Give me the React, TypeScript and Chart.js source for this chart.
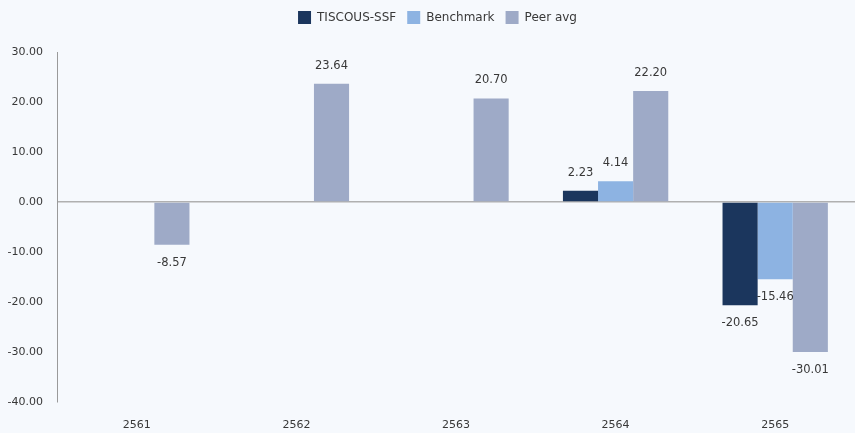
import React, { useEffect, useRef } from "react";
import { Chart, registerables } from "chart.js";

Chart.register(...registerables);

const categories = ["2561", "2562", "2563", "2564", "2565"];
const fundValues = [null, null, null, 2.23, -20.65];
const benchmarkValues = [null, null, null, 4.14, -15.46];
const peerValues = [-8.57, 23.64, 20.7, 22.2, -30.01];
const seriesNames = ["TISCOUS-SSF", "Benchmark", "Peer avg"];
const seriesColors = ["#1b365d", "#8db3e2", "#9eaac7"];

const FONT = "'DejaVu Sans', sans-serif";

const labelPlugin = {
  id: "valueLabels",
  afterDatasetsDraw(chart: any) {
    const ctx = chart.ctx;
    ctx.save();
    ctx.font = `11.5px ${FONT}`;
    ctx.fillStyle = "#383838";
    ctx.textAlign = "center";
    ctx.textBaseline = "middle";
    chart.data.datasets.forEach((ds: any, i: number) => {
      const meta = chart.getDatasetMeta(i);
      meta.data.forEach((bar: any, j: number) => {
        const v = ds.data[j];
        if (v === null || v === undefined) return;
        const y = v >= 0 ? bar.y - 18 : bar.y + 18;
        ctx.fillText(v.toFixed(2), bar.x, y);
      });
    });
    ctx.restore();
  },
};

const bgPlugin = {
  id: "bg",
  beforeDraw(chart: any) {
    const ctx = chart.ctx;
    ctx.save();
    ctx.fillStyle = "#f6f9fd";
    ctx.fillRect(0, 0, chart.width, chart.height);
    ctx.restore();
  },
};

const legendMargin = {
  id: "legendMargin",
  beforeInit(chart: any) {
    const legend = chart.legend;
    if (!legend) return;
    const orig = legend.fit;
    legend.fit = function () {
      orig.call(this);
      this.height += 18;
    };
  },
  afterLayout(chart: any) {
    if (chart.legend) chart.legend.left += 20;
  },
};

export default function App() {
  const ref = useRef<HTMLCanvasElement | null>(null);
  useEffect(() => {
    document.body.style.margin = "0";
    document.body.style.background = "#f6f9fd";
    const chart = new Chart(ref.current as HTMLCanvasElement, {
      type: "bar",
      data: {
        labels: categories,
        datasets: [fundValues, benchmarkValues, peerValues].map((d, i) => ({
          label: seriesNames[i],
          data: d,
          backgroundColor: seriesColors[i],
          borderWidth: 0,
          categoryPercentage: 0.66,
          barPercentage: 1,
        })),
      },
      options: {
        animation: false,
        responsive: false,
        maintainAspectRatio: false,
        layout: { padding: { top: 0, right: 0, bottom: 0, left: 0 } },
        plugins: {
          legend: {
            position: "top",
            labels: {
              boxWidth: 13,
              boxHeight: 13,
              padding: 11,
              color: "#383838",
              font: { family: FONT, size: 12 },
            },
          },
          tooltip: { enabled: false },
        },
        scales: {
          x: {
            afterFit(scale: any) {
              scale.height = 31;
            },
            grid: { display: false, drawTicks: false },
            border: { display: false },
            ticks: { color: "#383838", font: { family: FONT, size: 11 }, padding: 17 },
          },
          y: {
            min: -40,
            max: 30,
            afterFit(scale: any) {
              scale.width = 57;
            },
            ticks: {
              stepSize: 10,
              color: "#383838",
              padding: 14,
              font: { family: FONT, size: 11 },
              callback: (v: any) => Number(v).toFixed(2),
            },
            grid: {
              drawTicks: false,
              color: (c: any) => (c.tick && c.tick.value === 0 ? "#b0b0b0" : "rgba(0,0,0,0)"),
              lineWidth: 1.5,
            },
            border: { display: true, color: "#9a9a9a", width: 1 },
          },
        },
      },
      plugins: [bgPlugin, labelPlugin, legendMargin],
    });
    return () => chart.destroy();
  }, []);
  return (
    <div style={{ width: 855, height: 433, background: "#f6f9fd" }}>
      <canvas ref={ref} width={855} height={433} />
    </div>
  );
}
